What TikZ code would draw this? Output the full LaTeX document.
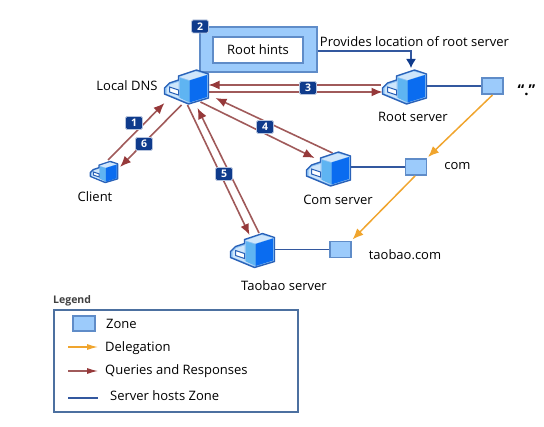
\documentclass[tikz,border=0pt]{standalone}
\usepackage{fontspec}
\setmainfont{Open Sans}
\usetikzlibrary{arrows.meta,calc}
\definecolor{qr}{HTML}{A05A5A}
\definecolor{qrhead}{HTML}{96393A}
\definecolor{deleg}{HTML}{F0A52E}
\definecolor{hostz}{HTML}{33589F}
\definecolor{zonefill}{HTML}{9CCBFB}
\definecolor{zoneline}{HTML}{5F8CC8}
\definecolor{navy}{HTML}{0F3B8C}
\definecolor{icoline}{HTML}{2A62B8}
\definecolor{icobase}{HTML}{8FC4F5}
\definecolor{icotop}{HTML}{CFE6FB}
\definecolor{icoside}{HTML}{5FB4F2}
\definecolor{icofront}{HTML}{0A6CF0}
\tikzset{
  x=1pt,y=-1pt,
  lbl/.style={font=\fontsize{13}{15}\selectfont,text=black,inner sep=0pt,anchor=center},
  zonebox/.style={draw=zoneline,line width=1.4pt,fill=zonefill,minimum width=21pt,minimum height=16pt,inner sep=0pt},
  badge/.style={draw=white!70!navy,line width=.8pt,fill=navy,text=white,rounded corners=1.5pt,font=\fontsize{10.5}{11}\selectfont\bfseries,minimum width=17pt,minimum height=13pt,inner sep=0pt},
  qarrow/.style={draw=qr,line width=1.6pt,-{Latex[length=11pt,width=9pt,color=qrhead]}},
  darrow/.style={draw=deleg,line width=1.5pt,-{Latex[length=11pt,width=9pt]}},
  hostline/.style={draw=hostz,line width=1.5pt},
  srv/.style={minimum width=44pt,minimum height=36pt,inner sep=0pt},
  pics/server/.style={code={
    \begin{scope}[scale=#1]
    \filldraw[draw=icoline,line width=1.4pt,fill=icobase,line join=round]
      (-22,1)--(-17,-4)--(-8,-7)--(-8,-11)--(10,-17)--(22,-13)--(22,11)--(2,17)--(-22,7)--cycle;
    \fill[fill=icotop] (-7,-10)--(9,-15.5)--(20.5,-12.5)--(3,-7)--cycle;
    \fill[fill=icoside] (-6.5,-9)--(3,-6)--(3,15)--(-6.5,11.5)--cycle;
    \fill[fill=icofront] (3,-6.5)--(20.5,-12)--(20.5,10)--(3,15.5)--cycle;
    \fill[fill=icotop] (-20,1.5)--(-16,-2.5)--(-8,-5)--(-8,10.5)--(1,15)--(-20,6.5)--cycle;
    \filldraw[draw=icoline,line width=1pt,fill=white] (-17,0)--(-8,3)--(-8,8)--(-17,5)--cycle;
    \end{scope}
  }}
}
\begin{document}
\begin{tikzpicture}
\useasboundingbox (0,0) rectangle (544,427);
% root hints
\node[draw=zoneline,line width=1.4pt,fill=zonefill,minimum width=117pt,minimum height=45pt,inner sep=0pt] (hintsouter) at (258.5,49.5) {};
\node[draw=zoneline,line width=1.4pt,fill=white,minimum width=90pt,minimum height=26pt,inner sep=0pt,font=\fontsize{13}{15}\selectfont] (hints) at (258,50) {Root hints};
% servers
\node[srv] (local) at (186.5,87) {};
\node[srv] (root) at (404.5,87) {};
\node[srv] (comsrv) at (328.5,169) {};
\node[srv] (taobao) at (252.5,250.5) {};
\node[minimum width=28pt,minimum height=24pt,inner sep=0pt] (client) at (104,172) {};
% zones
\node[zonebox] (zroot) at (492.5,86) {};
\node[zonebox] (zcom) at (416,167) {};
\node[zonebox] (ztaobao) at (340.5,249.5) {};
% host lines
\draw[hostline] (root.east|-zroot) -- (zroot.west);
\draw[hostline] (comsrv.east|-zcom) -- (zcom.west);
\draw[hostline] (taobao.east|-ztaobao) -- (ztaobao.west);
% delegation
\draw[darrow] ($(zroot.center)+(0,9)$) -- ($(zcom.center)+(12,-10)$);
\draw[darrow] ($(zcom.center)+(-1,9)$) -- ($(ztaobao.center)+(12,-10)$);
% queries
\draw[qarrow] ($(root.center)+(-24,-2)$) -- ($(local.center)+(22,-2)$);
\draw[qarrow] ($(local.center)+(22,5)$) -- ($(root.center)+(-22,5)$);
\draw[qarrow] ($(local.center)+(14,15)$) -- ($(comsrv.center)+(-14,-11)$);
\draw[qarrow] ($(comsrv.center)+(4,-16)$) -- ($(local.center)+(29,11)$);
\draw[qarrow] ($(local.center)+(1,18)$) -- ($(taobao.center)+(-3,-15.5)$);
\draw[qarrow] ($(taobao.center)+(6.5,-17.5)$) -- ($(local.center)+(11,21)$);
\draw[qarrow] ($(client.center)+(4,-12)$) -- ($(local.center)+(-22,16)$);
\draw[qarrow] ($(local.center)+(-5,18)$) -- ($(client.center)+(16,-5)$);
% provides
\draw[draw=hostz,line width=1.3pt,-{Latex[length=9pt,width=10pt,color=navy]}] (hintsouter.east|-0,51) -| ($(root.center)+(6.5,-19)$);
% icons
\pic at (local) {server=1};
\pic at (root) {server=1};
\pic at (comsrv) {server=1};
\pic at (taobao) {server=1};
\pic at (client) {server=.62};
% badges
\node[badge] (b1) at (134,123) {1};
\node[badge] (b2) at (200,26.5) {2};
\node[badge] (b3) at (308,88) {3};
\node[badge] (b4) at (265,127) {4};
\node[badge] (b5) at (224,174) {5};
\node[badge] (b6) at (144,144) {6};
% labels
\node[lbl] (tlocal) at (127,86) {Local DNS};
\node[lbl] (tclient) at (95,197) {Client};
\node[lbl] (troot) at (413,117) {Root server};
\node[lbl] (tcom) at (338,200) {Com server};
\node[lbl] (ttaobao) at (284,286) {Taobao server};
\node[lbl] (tzcom) at (457.5,166) {com};
\node[lbl] (ttb) at (405,255) {taobao.com};
\node[lbl,font=\fontsize{15}{16}\selectfont\bfseries] (tdot) at (526.5,90) {“.”};
\node[lbl] (tprov) at (414.5,42) {Provides location of root server};
% legend
\node[font=\fontsize{10.5}{12}\selectfont\bfseries,text=black!75,inner sep=0pt,anchor=west] (tleg) at (53,301) {Legend};
\node[draw=zoneline!80!black,line width=1.3pt,minimum width=244pt,minimum height=102pt,inner sep=0pt] (legbox) at (176,361) {};
\node[zonebox,minimum width=22pt,minimum height=15pt] (lz) at (84,323.5) {};
\coordinate (la1) at (68,347); \coordinate (la2) at (98,347);
\coordinate (lb1) at (68,371); \coordinate (lb2) at (98,371);
\coordinate (lc1) at (68,398); \coordinate (lc2) at (98,398);
\draw[draw=deleg,line width=1.2pt,-{Latex[length=11pt,width=6pt]}] (la1) -- (la2);
\draw[draw=qr,line width=1.2pt,-{Latex[length=11pt,width=6pt,color=qrhead]}] (lb1) -- (lb2);
\draw[hostline] (lc1) -- (lc2);
\node[lbl,anchor=west] (lt1) at (106,324) {Zone};
\node[lbl,anchor=west] (lt2) at (105,348) {Delegation};
\node[lbl,anchor=west] (lt3) at (105,371) {Queries and Responses};
\node[lbl,anchor=west] (lt4) at (110,396) {Server hosts Zone};
\end{tikzpicture}
\end{document}
